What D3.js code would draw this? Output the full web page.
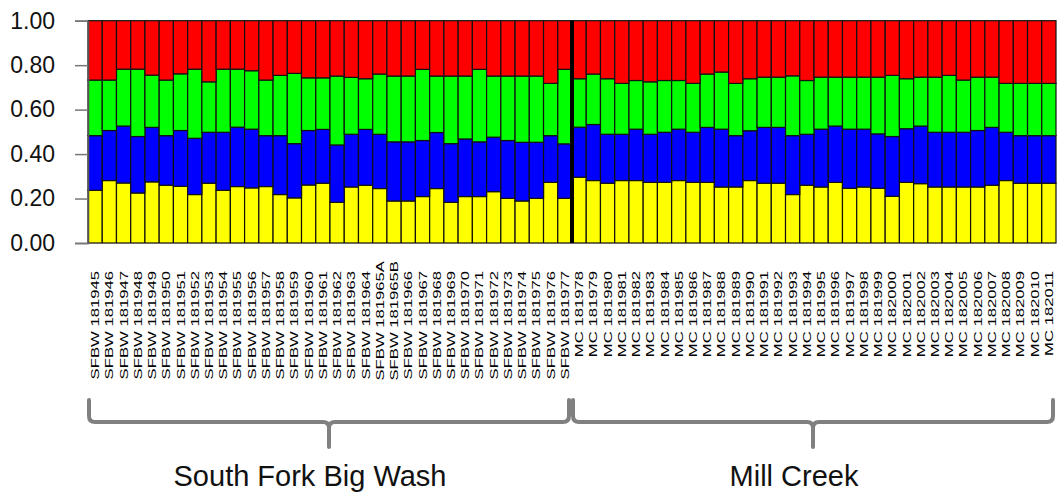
<!DOCTYPE html>
<html>
<head>
<meta charset="utf-8">
<script src="https://cdn.jsdelivr.net/npm/d3@7"></script>
<style>
  body { margin: 0; background: #fff; }
  svg { display: block; font-family: "Liberation Sans", Arial, sans-serif; }
</style>
</head>
<body>
<div id="chart"></div>
<script>
// sample ids, in plotting order
var samples = [
  "SFBW 181945", "SFBW 181946", "SFBW 181947", "SFBW 181948", "SFBW 181949",
  "SFBW 181950", "SFBW 181951", "SFBW 181952", "SFBW 181953", "SFBW 181954",
  "SFBW 181955", "SFBW 181956", "SFBW 181957", "SFBW 181958", "SFBW 181959",
  "SFBW 181960", "SFBW 181961", "SFBW 181962", "SFBW 181963", "SFBW 181964",
  "SFBW 181965A", "SFBW 181965B", "SFBW 181966", "SFBW 181967", "SFBW 181968",
  "SFBW 181969", "SFBW 181970", "SFBW 181971", "SFBW 181972", "SFBW 181973",
  "SFBW 181974", "SFBW 181975", "SFBW 181976", "SFBW 181977",
  "MC 181978", "MC 181979", "MC 181980", "MC 181981", "MC 181982",
  "MC 181983", "MC 181984", "MC 181985", "MC 181986", "MC 181987",
  "MC 181988", "MC 181989", "MC 181990", "MC 181991", "MC 181992",
  "MC 181993", "MC 181994", "MC 181995", "MC 181996", "MC 181997",
  "MC 181998", "MC 181999", "MC 182000", "MC 182001", "MC 182002",
  "MC 182003", "MC 182004", "MC 182005", "MC 182006", "MC 182007",
  "MC 182008", "MC 182009", "MC 182010", "MC 182011"
];

// proportions per cluster (bottom to top)
var yellowVals = [
  .237, .281, .270, .225, .275, .260, .255, .218, .269, .237,
  .254, .248, .254, .218, .203, .261, .269, .183, .252, .260,
  .245, .189, .189, .209, .245, .183, .209, .209, .231, .201,
  .189, .201, .273, .201,
  .296, .281, .269, .281, .281, .273, .273, .281, .273, .273,
  .252, .252, .281, .269, .269, .218, .260, .252, .273, .246,
  .252, .246, .210, .273, .267, .252, .252, .252, .252, .260,
  .281, .269, .269, .269
];
var blueVals = [
  .246, .225, .256, .254, .245, .223, .251, .253, .229, .261,
  .267, .264, .229, .265, .244, .245, .242, .258, .237, .251,
  .244, .266, .266, .252, .252, .264, .259, .246, .245, .260,
  .264, .252, .210, .245,
  .225, .252, .220, .208, .231, .216, .225, .231, .225, .247,
  .260, .231, .224, .251, .251, .265, .229, .260, .253, .266,
  .260, .245, .269, .241, .259, .246, .246, .246, .254, .260,
  .217, .214, .214, .214
];
var greenVals = [
  .250, .227, .256, .303, .235, .250, .255, .311, .227, .284,
  .261, .263, .250, .271, .316, .237, .232, .310, .256, .228,
  .271, .296, .296, .320, .254, .304, .283, .326, .275, .290,
  .298, .298, .235, .335,
  .218, .227, .250, .229, .219, .236, .233, .219, .220, .240,
  .257, .235, .234, .226, .226, .269, .242, .234, .220, .234,
  .234, .255, .275, .225, .220, .248, .256, .235, .240, .226,
  .220, .235, .235, .235
];
var redVals = [
  .267, .267, .218, .218, .245, .267, .239, .218, .275, .218,
  .218, .225, .267, .246, .237, .257, .257, .249, .255, .261,
  .240, .249, .249, .219, .249, .249, .249, .219, .249, .249,
  .249, .249, .282, .219,
  .261, .240, .261, .282, .269, .275, .269, .269, .282, .240,
  .231, .282, .261, .254, .254, .248, .269, .254, .254, .254,
  .254, .254, .246, .261, .254, .254, .246, .267, .254, .254,
  .282, .282, .282, .282
];

var yTicks = [0, 0.2, 0.4, 0.6, 0.8, 1.0];

var groups = [
  {name: "South Fork Big Wash", first: "SFBW 181945", last: "SFBW 181977"},
  {name: "Mill Creek", first: "MC 181978", last: "MC 182011"}
];

var keys = ["yellow", "blue", "green", "red"];
var colors = {yellow: "#ffff00", blue: "#0000ff", green: "#00ff00", red: "#ff0000"};

var rows = samples.map(function(s, i) {
  return {sample: s, yellow: yellowVals[i], blue: blueVals[i], green: greenVals[i], red: redVals[i]};
});

// layout
var W = 1061, H = 493;
var plotLeft = 88, plotRight = 1056, plotTop = 20.7, plotBottom = 243;

var svg = d3.select("#chart")
  .append("svg")
    .attr("width", W)
    .attr("height", H);

var x = d3.scaleBand()
  .domain(samples)
  .range([plotLeft, plotRight])
  .padding(0);

var y = d3.scaleLinear()
  .domain([0, 1])
  .range([plotBottom, plotTop]);

var stacked = d3.stack().keys(keys)(rows);

// bars
svg.append("g")
  .selectAll("g")
  .data(stacked)
  .enter()
    .append("g")
    .attr("fill", function(d) { return colors[d.key]; })
  .selectAll("rect")
  .data(function(d) { return d; })
  .enter()
    .append("rect")
    .attr("x", function(d) { return x(d.data.sample); })
    .attr("width", x.bandwidth())
    .attr("y", function(d) { return y(Math.min(d[1], 1)); })
    .attr("height", function(d) { return y(d[0]) - y(Math.min(d[1], 1)); })
    .attr("stroke", "#111")
    .attr("stroke-width", 1.2);

// divider between sites
var divX = x(groups[1].first);
svg.append("line")
  .attr("x1", divX).attr("x2", divX)
  .attr("y1", y(1)).attr("y2", y(0))
  .attr("stroke", "#000")
  .attr("stroke-width", 4);

// y axis
var yAxis = svg.append("g")
  .attr("transform", "translate(" + plotLeft + ",0)")
  .call(d3.axisLeft(y)
    .tickValues(yTicks)
    .tickFormat(d3.format(".2f"))
    .tickSize(13)
    .tickPadding(20));
yAxis.select(".domain").attr("stroke", "#555").attr("stroke-width", 1.5);
yAxis.selectAll(".tick line").attr("stroke", "#777").attr("stroke-width", 1.5);
yAxis.selectAll(".tick text")
  .attr("fill", "#111")
  .style("font-size", "23px")
  .style("font-family", "'Liberation Sans', Arial, sans-serif");

// bottom baseline
svg.append("line")
  .attr("x1", plotLeft).attr("x2", plotRight)
  .attr("y1", plotBottom + 0.5).attr("y2", plotBottom + 0.5)
  .attr("stroke", "#666")
  .attr("stroke-width", 1.2);

// rotated sample labels, stretched along their length
var labelTop = 271;
svg.append("g")
  .selectAll("text")
  .data(samples)
  .enter()
    .append("text")
    .attr("transform", function(d) {
      var lift = /[A-Z]$/.test(d) ? 10 : 0;
      return "translate(" + (x(d) + x.bandwidth() / 2 + 4) + "," + (labelTop - lift) + ") rotate(-90) scale(1.45,1)";
    })
    .attr("text-anchor", "end")
    .attr("fill", "#000")
    .style("font-size", "11.5px")
    .text(function(d) { return d; });

// group braces and names
var braceTop = 400, braceLine = 422, braceTip = 447, r = 6;
groups.forEach(function(g) {
  var x0 = x(g.first) + 1;
  var x1 = x(g.last) + x.bandwidth() - 3;
  var mid = (x0 + x1) / 2;
  var p = "M" + x0 + "," + braceTop +
          " L" + x0 + "," + (braceLine - r) +
          " Q" + x0 + "," + braceLine + " " + (x0 + r) + "," + braceLine +
          " L" + (mid - r) + "," + braceLine +
          " Q" + mid + "," + braceLine + " " + mid + "," + (braceLine + r) +
          " L" + mid + "," + braceTip +
          " M" + mid + "," + (braceLine + r) +
          " Q" + mid + "," + braceLine + " " + (mid + r) + "," + braceLine +
          " L" + (x1 - r) + "," + braceLine +
          " Q" + x1 + "," + braceLine + " " + x1 + "," + (braceLine - r) +
          " L" + x1 + "," + braceTop;
  svg.append("path")
    .attr("d", p)
    .attr("fill", "none")
    .attr("stroke", "#808080")
    .attr("stroke-width", 4)
    .attr("stroke-linecap", "round")
    .attr("stroke-linejoin", "round");

  svg.append("text")
    .attr("x", mid - 19)
    .attr("y", 486)
    .attr("text-anchor", "middle")
    .attr("fill", "#111")
    .style("font-size", "29px")
    .text(g.name);
});
</script>
</body>
</html>
